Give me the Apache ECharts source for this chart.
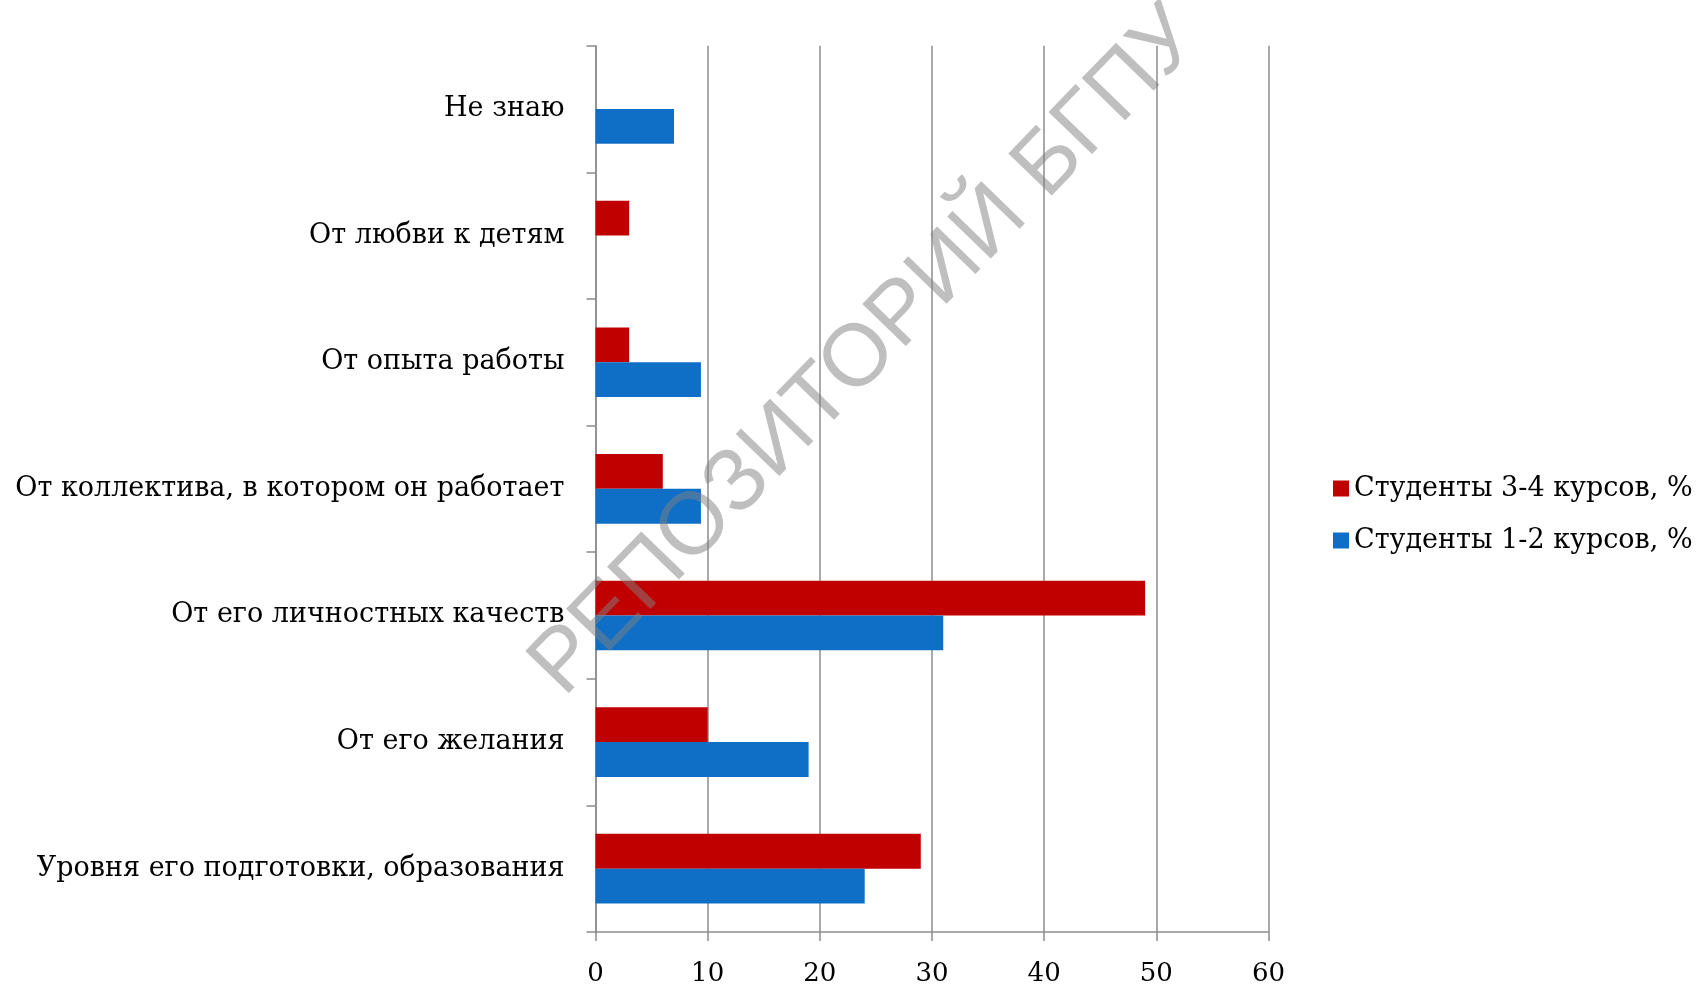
<!DOCTYPE html>
<html>
<head>
<meta charset="UTF-8">
<title>Студенты</title>
<script type="text/javascript" src="https://cdn.jsdelivr.net/npm/echarts@6/dist/echarts.min.js"></script>
<style>
  html, body { margin:0; padding:0; background:#fff; }
</style>
</head>
<body>
<div id="main" style="width:1707px;height:990px"></div>
<script type="text/javascript">
// категории снизу вверх
var categories = [
  'Уровня его подготовки, образования',
  'От его желания',
  'От его личностных качеств',
  'От коллектива, в котором он работает',
  'От опыта работы',
  'От любви к детям',
  'Не знаю'
];
var seriesNames = ['Студенты 3-4 курсов, %', 'Студенты 1-2 курсов, %'];
var course34 = [29, 10, 49, 6, 3, 3, 0];
var course12 = [24, 19, 31, 9.4, 9.4, 0, 7];
var xTicks = [0, 10, 20, 30, 40, 50, 60];

var font = '"DejaVu Serif", "Liberation Serif", serif';
var gray = '#8c8c8c';

var myChart = echarts.init(document.getElementById('main'));
var option = {
  animation: false,
  grid: { left: 595.5, right: 438.5, top: 45.7, bottom: 58 },
  legend: {
    orient: 'vertical',
    left: 1328,
    top: 470,
    itemWidth: 16,
    itemHeight: 16,
    itemGap: 25,
    icon: 'rect',
    data: seriesNames,
    textStyle: { fontFamily: font, fontSize: 27, color: '#000' }
  },
  xAxis: {
    type: 'value',
    min: xTicks[0],
    max: xTicks[xTicks.length - 1],
    interval: 10,
    axisLine: { show: true, lineStyle: { color: gray, width: 1.5 } },
    axisTick: { show: true, length: 9, lineStyle: { color: gray, width: 1.5 } },
    axisLabel: { fontFamily: font, fontSize: 26, color: '#000', margin: 29 },
    splitLine: { show: true, lineStyle: { color: gray, width: 1.5 } }
  },
  yAxis: {
    type: 'category',
    data: categories,
    axisLine: { show: true, lineStyle: { color: gray, width: 1.5 } },
    axisTick: { show: true, length: 9, lineStyle: { color: gray, width: 1.5 } },
    axisLabel: { fontFamily: font, fontSize: 27, color: '#000', margin: 31 }
  },
  series: [
    {
      name: seriesNames[0],
      type: 'bar',
      data: course34,
      barGap: '0%',
      barCategoryGap: '45%',
      itemStyle: { color: '#C00000' }
    },
    {
      name: seriesNames[1],
      type: 'bar',
      data: course12,
      barGap: '0%',
      barCategoryGap: '45%',
      itemStyle: { color: '#0F6FC6' }
    }
  ],
  graphic: [{
    type: 'text',
    x: 866,
    y: 352,
    rotation: 0.8,
    z: 100,
    style: {
      text: 'РЕПОЗИТОРИЙ БГПУ',
      font: '88px "Liberation Sans", Arial, sans-serif',
      fill: 'rgba(128,128,128,0.5)',
      align: 'center',
      verticalAlign: 'middle'
    }
  }]
};
myChart.setOption(option);
</script>
</body>
</html>
